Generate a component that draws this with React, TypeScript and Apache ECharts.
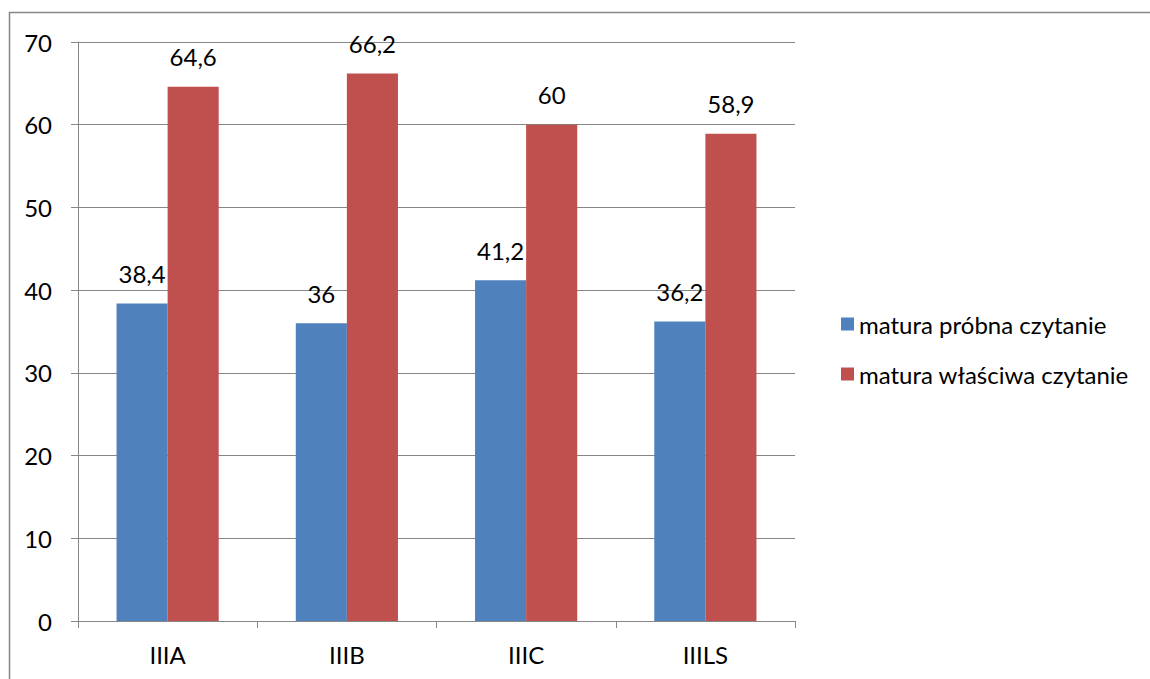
import React, { useEffect, useRef } from "react";
import * as echarts from "echarts";

const categories = ["IIIA", "IIIB", "IIIC", "IIILS"];
const seriesNames = ["matura próbna czytanie", "matura właściwa czytanie"];
const probna = [38.4, 36, 41.2, 36.2];
const wlasciwa = [64.6, 66.2, 60, 58.9];
const yTicks = { min: 0, max: 70, interval: 10 };

const FONT = "Lato, 'Open Sans', sans-serif";
const FS = 24;

export default function App() {
  const ref = useRef<HTMLDivElement>(null);
  useEffect(() => {
    if (!ref.current) return;
    const chart = echarts.init(ref.current, undefined, { renderer: "svg" });
    const labelFmt = (p: any) => String(p.value).replace(".", ",");
    const dataLabel = {
      show: true,
      position: "top",
      distance: 18,
      color: "#000",
      fontSize: FS,
      fontFamily: FONT,
      formatter: labelFmt,
    };
    chart.setOption({
      animation: false,
      backgroundColor: "#ffffff",
      textStyle: { fontFamily: FONT },
      graphic: [
        {
          type: "rect",
          shape: { x: 9.5, y: 12.5, width: 1300, height: 800 },
          style: { fill: "none", stroke: "#868686", lineWidth: 1.5 },
          silent: true,
          z: -10,
        },
      ],
      grid: { left: 78, right: 355, top: 42, bottom: 58, containLabel: false },
      legend: {
        orient: "vertical",
        left: 836,
        top: 307,
        itemWidth: 13,
        itemHeight: 13,
        itemGap: 26,
        icon: "rect",
        textStyle: { fontSize: FS, lineHeight: 24, color: "#000", fontFamily: FONT },
        data: seriesNames,
      },
      xAxis: {
        type: "category",
        data: categories,
        axisLine: { lineStyle: { color: "#868686", width: 1 } },
        axisTick: { show: true, length: 7, lineStyle: { color: "#868686" } },
        axisLabel: { color: "#000", fontSize: FS, margin: 21, fontFamily: FONT },
        splitLine: { show: false },
      },
      yAxis: {
        type: "value",
        min: yTicks.min,
        max: yTicks.max,
        interval: yTicks.interval,
        axisLine: { show: true, lineStyle: { color: "#868686", width: 1 } },
        axisTick: { show: true, length: 7, lineStyle: { color: "#868686" } },
        axisLabel: { color: "#000", fontSize: FS, margin: 26, fontFamily: FONT },
        splitLine: { show: true, lineStyle: { color: "#868686", width: 1 } },
      },
      series: [
        {
          name: seriesNames[0],
          type: "bar",
          data: probna,
          barWidth: "28.5%",
          barGap: "0%",
          itemStyle: { color: "#4F81BD" },
          label: dataLabel,
        },
        {
          name: seriesNames[1],
          type: "bar",
          data: wlasciwa,
          barWidth: "28.5%",
          barGap: "0%",
          itemStyle: { color: "#C0504D" },
          label: dataLabel,
        },
      ],
    });
    return () => chart.dispose();
  }, []);
  return (
    <div
      ref={ref}
      style={{ position: "fixed", left: 0, top: 0, width: 1150, height: 679 }}
    />
  );
}
